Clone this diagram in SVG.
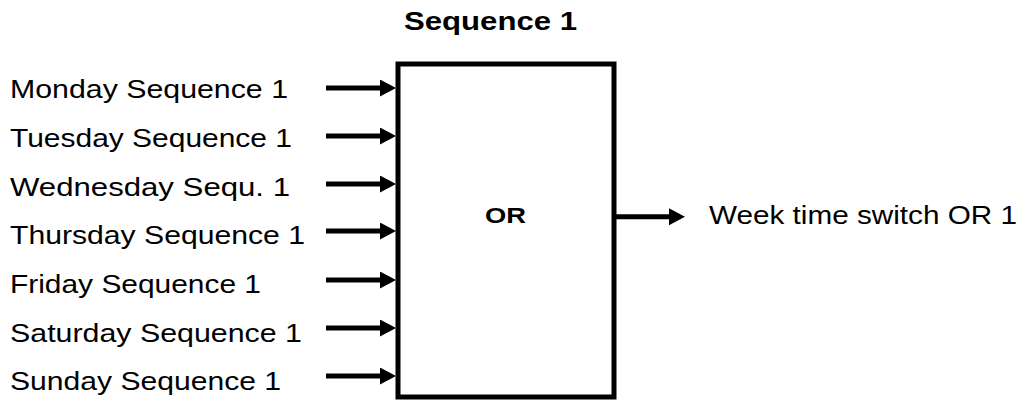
<svg xmlns="http://www.w3.org/2000/svg" width="1026" height="400" viewBox="0 0 1026 400">
  <style>
    .lbl { font-family: "Liberation Sans", Arial, sans-serif; font-size: 25px; fill: #000; }
    .bold { font-family: "Liberation Sans", Arial, sans-serif; font-weight: bold; fill: #000; }
    .wire { stroke: #000; stroke-width: 5; fill: none; }
    .block { fill: #fff; stroke: #000; stroke-width: 5; }
  </style>
  <defs>
    <marker id="head" markerUnits="userSpaceOnUse" markerWidth="17" markerHeight="18" refX="2" refY="8.5" orient="auto">
      <path d="M0,0 L16,8.5 L0,17 Z" fill="#000"/>
    </marker>
  </defs>
  <rect width="1026" height="400" fill="#fff"/>

  <!-- heading above the block -->
  <text class="bold" x="404" y="30" font-size="25" textLength="173" lengthAdjust="spacingAndGlyphs">Sequence 1</text>

  <g id="or-block">
    <rect class="block" x="398" y="64" width="216" height="333"/>
    <text class="bold" x="485" y="223.3" font-size="22.5" textLength="41" lengthAdjust="spacingAndGlyphs">OR</text>
  </g>

  <g id="inputs">
    <text class="lbl" x="10" y="98.3" textLength="278" lengthAdjust="spacingAndGlyphs">Monday Sequence 1</text>
    <text class="lbl" x="10" y="147" textLength="282" lengthAdjust="spacingAndGlyphs">Tuesday Sequence 1</text>
    <text class="lbl" x="10" y="195.6" textLength="280" lengthAdjust="spacingAndGlyphs">Wednesday Sequ. 1</text>
    <text class="lbl" x="10" y="244.3" textLength="295" lengthAdjust="spacingAndGlyphs">Thursday Sequence 1</text>
    <text class="lbl" x="10" y="293" textLength="251" lengthAdjust="spacingAndGlyphs">Friday Sequence 1</text>
    <text class="lbl" x="10" y="341.6" textLength="292" lengthAdjust="spacingAndGlyphs">Saturday Sequence 1</text>
    <text class="lbl" x="10" y="390.3" textLength="271" lengthAdjust="spacingAndGlyphs">Sunday Sequence 1</text>
  </g>

  <g id="output">
    <text class="lbl" x="709" y="224.3" textLength="308" lengthAdjust="spacingAndGlyphs">Week time switch OR 1</text>
  </g>

  <g id="connectors">
    <line class="wire" x1="326" y1="88" x2="382" y2="88" marker-end="url(#head)"/>
    <line class="wire" x1="326" y1="136" x2="382" y2="136" marker-end="url(#head)"/>
    <line class="wire" x1="326" y1="184" x2="382" y2="184" marker-end="url(#head)"/>
    <line class="wire" x1="326" y1="231" x2="382" y2="231" marker-end="url(#head)"/>
    <line class="wire" x1="326" y1="280" x2="382" y2="280" marker-end="url(#head)"/>
    <line class="wire" x1="326" y1="328" x2="382" y2="328" marker-end="url(#head)"/>
    <line class="wire" x1="326" y1="376" x2="382" y2="376" marker-end="url(#head)"/>
    <line class="wire" x1="616" y1="216.7" x2="671" y2="216.7" marker-end="url(#head)"/>
  </g>
</svg>
